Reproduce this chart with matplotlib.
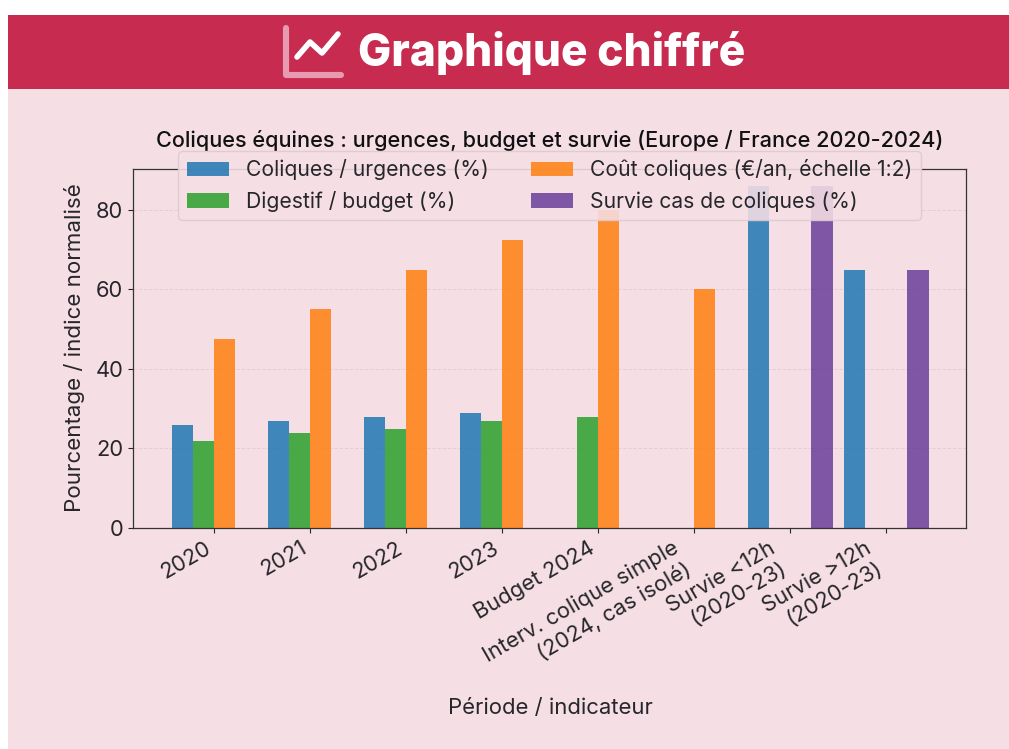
import numpy as np
import matplotlib
matplotlib.use('Agg')
import matplotlib.pyplot as plt
from matplotlib.patches import Rectangle

W, H = 1009, 749
nan = float('nan')

categories = ['2020', '2021', '2022', '2023', 'Budget 2024',
              'Interv. colique simple\n(2024, cas isolé)',
              'Survie <12h\n(2020-23)', 'Survie >12h\n(2020-23)']
coliques = [26, 27, 28, 29, nan, nan, 86, 65]
digestif = [22, 24, 25, 27, 28, nan, nan, nan]
cout = [47.5, 55, 65, 72.5, 80, 60, nan, nan]
survie = [nan, nan, nan, nan, nan, nan, 86, 65]
yticks = [0, 20, 40, 60, 80]

plt.rcParams['font.family'] = ['Inter', 'DejaVu Sans']
INK = '#26262b'

fig = plt.figure(figsize=(W / 100, H / 100), dpi=100, facecolor='white')

# banner and page background, in pixels
bg = fig.add_axes([0, 0, 1, 1], zorder=0)
bg.set_xlim(0, W)
bg.set_ylim(H, 0)
bg.axis('off')
bg.add_patch(Rectangle((8, 89), W - 8, H - 89, color='#f5dfe4', lw=0))
bg.add_patch(Rectangle((8, 15), W - 8, 74, color='#c72c50', lw=0))
bg.plot([286, 286, 341], [28, 75, 75], color='#e89bb0', lw=4.4,
        solid_capstyle='round', solid_joinstyle='round')
bg.plot([297, 310, 322, 338], [57, 42, 53, 34], color='white', lw=4,
        solid_capstyle='round', solid_joinstyle='round')
bg.text(358, 66, 'Graphique chiffré', color='white', fontsize=31.9,
        fontweight='heavy', va='baseline', ha='left')

ax = fig.add_axes([133 / W, 1 - 528 / H, 833 / W, 359 / H], zorder=1)
ax.patch.set_alpha(0)

x = np.arange(len(categories))
w = 0.22
ax.bar(x - 1.5 * w, coliques, w, color='#1f77b4', alpha=0.85, label='Coliques / urgences (%)')
ax.bar(x - 0.5 * w, digestif, w, color='#2ca02c', alpha=0.85, label='Digestif / budget (%)')
ax.bar(x + 0.5 * w, cout, w, color='#ff7f0e', alpha=0.85, label='Coût coliques (€/an, échelle 1:2)')
ax.bar(x + 1.5 * w, survie, w, color='#6a3d9a', alpha=0.85, label='Survie cas de coliques (%)')

ax.set_xlim(-0.844, 7.83)
ax.set_ylim(0, 90.3)
ax.set_yticks(yticks)
ax.set_xticks(x)
ax.set_xticklabels(categories, rotation=30, ha='right')
ax.tick_params(axis='both', labelsize=15.8, colors=INK, length=3.5, width=0.8)
ax.yaxis.grid(True, linestyle='--', color='#c9b8bd', alpha=0.4, linewidth=0.7)
ax.set_axisbelow(True)
for s in ax.spines.values():
    s.set_color('#33333a')
    s.set_linewidth(0.9)

leg = ax.legend(loc='upper center', bbox_to_anchor=(0.5, 1.05), borderaxespad=0, ncol=2,
                fontsize=15.2, framealpha=0.88, facecolor='#f5dfe4', edgecolor='#dcc9d2')
for t in leg.get_texts():
    t.set_color(INK)

bg.text(550, 147, 'Coliques équines : urgences, budget et survie (Europe / France 2020-2024)',
        fontsize=15.6, color='#111114', ha='center', va='baseline', fontweight='medium')
bg.text(550, 714, 'Période / indicateur', fontsize=15.9, color=INK, ha='center', va='baseline')
bg.text(75, 348, 'Pourcentage / indice normalisé', fontsize=16.1, color=INK, rotation=90,
        ha='center', va='center')

fig.savefig('out.png', dpi=100)
